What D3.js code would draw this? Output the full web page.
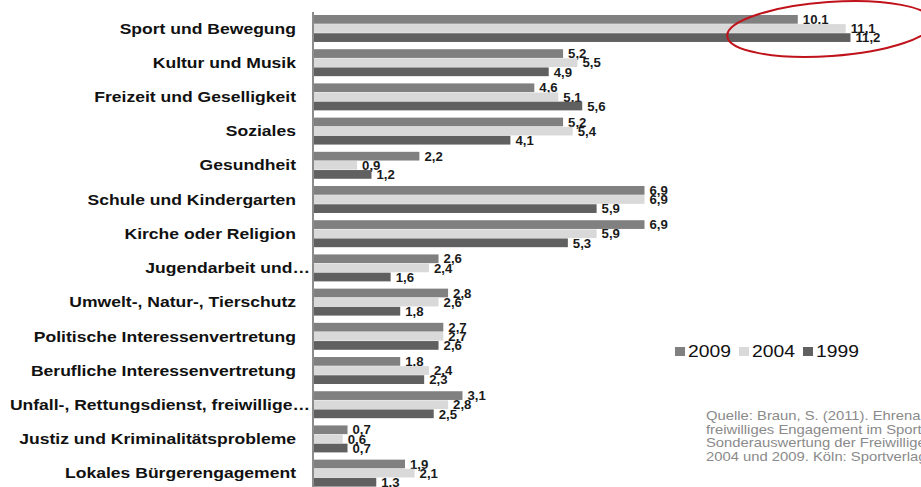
<!DOCTYPE html>
<html>
<head>
<meta charset="utf-8">
<script src="https://cdn.jsdelivr.net/npm/d3@7"></script>
<style>
  html, body { margin: 0; padding: 0; background: #fff; overflow: hidden; }
  text { font-family: "Liberation Sans", Arial, sans-serif; }
</style>
</head>
<body>
<svg id="chart" width="921" height="487"></svg>
<script>
// categories top to bottom
const categories = [
  "Sport und Bewegung",
  "Kultur und Musik",
  "Freizeit und Geselligkeit",
  "Soziales",
  "Gesundheit",
  "Schule und Kindergarten",
  "Kirche oder Religion",
  "Jugendarbeit und…",
  "Umwelt-, Natur-, Tierschutz",
  "Politische Interessenvertretung",
  "Berufliche Interessenvertretung",
  "Unfall-, Rettungsdienst, freiwillige…",
  "Justiz und Kriminalitätsprobleme",
  "Lokales Bürgerengagement",
];
const years = ["2009", "2004", "1999"];
const values2009 = [10.1, 5.2, 4.6, 5.2, 2.2, 6.9, 6.9, 2.6, 2.8, 2.7, 1.8, 3.1, 0.7, 1.9];
const values2004 = [11.1, 5.5, 5.1, 5.4, 0.9, 6.9, 5.9, 2.4, 2.6, 2.7, 2.4, 2.8, 0.6, 2.1];
const values1999 = [11.2, 4.9, 5.6, 4.1, 1.2, 5.9, 5.3, 1.6, 1.8, 2.6, 2.3, 2.5, 0.7, 1.3];
const sourceLines = [
  "Quelle: Braun, S. (2011). Ehrenamtliches und",
  "freiwilliges Engagement im Sport. Sportbezogene",
  "Sonderauswertung der Freiwilligensurveys von 1999,",
  "2004 und 2009. Köln: Sportverlag Strauß.",
];

const series = [values2009, values2004, values1999];
const colors = ["#808080", "#d9d9d9", "#606060"];
const stretch = 1.17; // the original picture is a bit wider than its fonts
const fmt = (v) => d3.format(".1f")(v).replace(".", ",");

const svg = d3.select("#chart");

// scales
const axisX = 313;
const x = d3.scaleLinear().domain([0, 12]).range([axisX + 1, axisX + 1 + 12 * 47.9]);
const y = d3.scaleBand().domain(categories).range([15, 487]).paddingInner(0.2).paddingOuter(0);
const ySub = d3.scaleBand().domain(years).range([0, y.bandwidth()]);

// rows of bars
const rows = svg.append("g").attr("class", "rows")
  .selectAll("g")
  .data(categories)
  .join("g")
  .attr("transform", (d) => `translate(0,${y(d)})`);

const cells = rows.selectAll("g.cell")
  .data((d, i) => years.map((yr, k) => ({ year: yr, k: k, value: series[k][i] })))
  .join("g")
  .attr("class", "cell");

cells.append("rect")
  .attr("x", x(0))
  .attr("y", (d) => ySub(d.year))
  .attr("width", (d) => x(d.value) - x(0))
  .attr("height", ySub.bandwidth() - 0.4)
  .attr("fill", (d) => colors[d.k]);

// value labels at the bar ends
cells.append("text")
  .attr("transform", (d) =>
    `translate(${x(d.value) + 5},${ySub(d.year) + ySub.bandwidth() / 2 + 4.5}) scale(1.1,1)`)
  .attr("font-size", 12)
  .attr("font-weight", "bold")
  .attr("fill", "#1a1a1a")
  .text((d) => fmt(d.value));

// category labels; truncated ones let the dots hang out towards the axis
svg.append("g")
  .selectAll("text")
  .data(categories)
  .join("text")
  .attr("transform", (d) => {
    const ax = d.endsWith("…") ? 310 : 296;
    return `translate(${ax},${y(d) + y.bandwidth() / 2 + 5}) scale(${stretch},1)`;
  })
  .attr("text-anchor", "end")
  .attr("font-size", 15)
  .attr("font-weight", "bold")
  .attr("fill", "#111")
  .text((d) => d);

// vertical axis line
svg.append("line")
  .attr("x1", axisX).attr("x2", axisX)
  .attr("y1", 12).attr("y2", 487)
  .attr("stroke", "#8c8c8c")
  .attr("stroke-width", 2);

// legend
const legend = svg.append("g").attr("transform", "translate(675,347)");
const items = legend.selectAll("g")
  .data(years)
  .join("g")
  .attr("transform", (d, i) => `translate(${i * 64},0)`);
items.append("rect")
  .attr("width", 10).attr("height", 9)
  .attr("fill", (d, i) => colors[i]);
items.append("text")
  .attr("transform", `translate(13,10) scale(${stretch},1)`)
  .attr("font-size", 16.5)
  .attr("fill", "#111")
  .text((d) => d);

// source note
svg.append("g")
  .selectAll("text")
  .data(sourceLines)
  .join("text")
  .attr("transform", (d, i) => `translate(706,${420 + i * 13.5}) scale(1.14,1)`)
  .attr("font-size", 13)
  .attr("fill", "#8a8a8a")
  .text((d) => d);

// red highlight ellipse round the sport row
svg.append("ellipse")
  .attr("transform", `translate(830,29) rotate(-4)`)
  .attr("rx", 103)
  .attr("ry", 27)
  .attr("fill", "none")
  .attr("stroke", "#c0121a")
  .attr("stroke-width", 2);
</script>
</body>
</html>
